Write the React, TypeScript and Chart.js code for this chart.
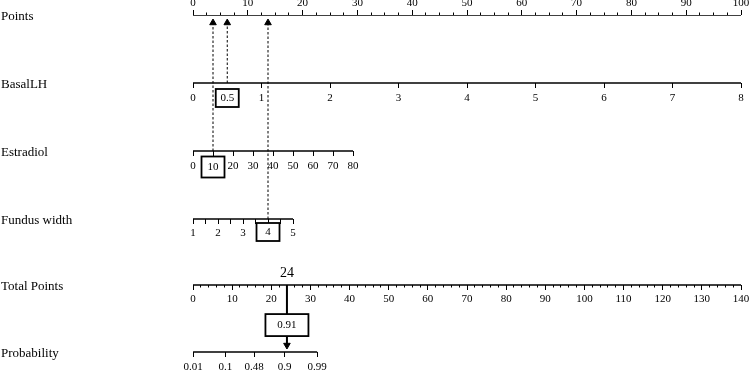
import React, { useEffect, useRef } from 'react';
import { Chart, registerables } from 'chart.js';

Chart.register(...registerables);

// ---- rows ----
const ROW_NAMES = ['Points', 'BasalLH', 'Estradiol', 'Fundus width', 'Total Points', 'Probability'];
const ROW_POS = [0, 1, 2, 3, 3.97, 4.955];

// ---- axes ----
const POINTS_TICKS = [0, 10, 20, 30, 40, 50, 60, 70, 80, 90, 100];
const POINTS_MINOR_STEP = 2.5;

const BASAL_TICKS = [0, 1, 2, 3, 4, 5, 6, 7, 8];
const BASAL_POINTS_AT_MAX = 100;

const ESTRADIOL_TICKS = [0, 10, 20, 30, 40, 50, 60, 70, 80];
const ESTRADIOL_POINTS_AT_MAX = 29.2;

const FUNDUS_TICKS = [1, 1.5, 2, 2.5, 3, 3.5, 4, 4.5, 5];
const FUNDUS_LABELS = ['1', '', '2', '', '3', '', '4', '', '5'];
const FUNDUS_POINTS_AT_MAX = 18.25;

const TOTAL_TICKS = [0, 10, 20, 30, 40, 50, 60, 70, 80, 90, 100, 110, 120, 130, 140];
const TOTAL_MINOR_STEP = 2;

const PROB_TICKS = [0.01, 0.1, 0.48, 0.9, 0.99];
const LOGIT_INTERCEPT = -4.6;
const LOGIT_SLOPE = 0.29;

// ---- selected case ----
const SEL_BASAL = 0.5;
const SEL_ESTRADIOL = 10;
const SEL_FUNDUS = 4;
const SEL_TOTAL = 24;
const SEL_PROB = 0.91;

const FONT = '"Liberation Serif", "Times New Roman", serif';
const TICK_FONT_SIZE = 11;
const logit = (p: number) => Math.log(p / (1 - p));
const range = (a: number, b: number, s: number) => {
  const out: number[] = [];
  for (let v = a; v <= b + 1e-9; v += s) out.push(+v.toFixed(4));
  return out;
};
const axisMax = (lo: number, hi: number, pts: number) => lo + (hi - lo) * 100 / pts;

function mkAxis(o: {
  row: number; min: number; max: number; ticks: number[];
  labels?: string[]; tickLength: number; grid: boolean;
}) {
  return {
    type: 'linear',
    position: { y: o.row },
    min: o.min,
    max: o.max,
    bounds: 'data',
    afterBuildTicks: (s: any) => { s.ticks = o.ticks.map((v) => ({ value: v })); },
    grid: {
      display: o.grid,
      drawOnChartArea: false,
      drawTicks: true,
      tickLength: o.tickLength,
      color: '#000',
      lineWidth: 1,
    },
    border: { display: false },
    ticks: {
      autoSkip: false,
      maxRotation: 0,
      minRotation: 0,
      padding: 0,
      color: '#000',
      font: { family: FONT, size: TICK_FONT_SIZE },
      callback: (_v: any, i: number) => (o.labels ? o.labels[i] : ''),
    },
  };
}

const LINE = { borderColor: '#000', borderWidth: 1.5, pointRadius: 0, fill: false, yAxisID: 'y' };

export default function App() {
  const ref = useRef<HTMLCanvasElement | null>(null);

  useEffect(() => {
    if (!ref.current) return;
    const rPts = ROW_POS[0], rBas = ROW_POS[1], rEst = ROW_POS[2], rFun = ROW_POS[3], rTot = ROW_POS[4], rPro = ROW_POS[5];
    const estMax = axisMax(0, 80, ESTRADIOL_POINTS_AT_MAX);
    const funMax = axisMax(1, 5, FUNDUS_POINTS_AT_MAX);
    const basMax = axisMax(0, 8, BASAL_POINTS_AT_MAX);
    const proMin = LOGIT_INTERCEPT;
    const proMax = LOGIT_INTERCEPT + LOGIT_SLOPE * 140;
    const ARROW_UP_ROW = 0.115;
    const ARROW_DOWN_ROW = 4.856;

    const dashed = (axis: string, v: number, row: number) => ({
      ...LINE,
      xAxisID: axis,
      borderWidth: 1,
      borderDash: [2.5, 2],
      data: [{ x: v, y: row }, { x: v, y: ARROW_UP_ROW }],
      pointRadius: [0, 3.8],
      pointStyle: 'triangle',
      pointRotation: 0,
      pointBackgroundColor: '#000',
      pointBorderColor: '#000',
      pointBorderWidth: 1,
    });

    const overlay = {
      id: 'overlay',
      afterDraw(chart: any) {
        const ctx = chart.ctx as CanvasRenderingContext2D;
        const ys = chart.scales.y;
        ctx.save();
        ctx.fillStyle = '#000';
        ctx.font = `13px ${FONT}`;
        ctx.textBaseline = 'middle';
        ctx.textAlign = 'left';
        ROW_NAMES.forEach((n, i) => ctx.fillText(n, 1, ys.getPixelForValue(ROW_POS[i]) + 2));

        const box = (cx: number, cy: number, w: number, h: number, text: string) => {
          ctx.fillStyle = '#fff';
          ctx.fillRect(cx - w / 2, cy - h / 2, w, h);
          ctx.lineWidth = 1.8;
          ctx.strokeStyle = '#000';
          ctx.strokeRect(cx - w / 2, cy - h / 2, w, h);
          ctx.fillStyle = '#000';
          ctx.font = `${TICK_FONT_SIZE}px ${FONT}`;
          ctx.textAlign = 'center';
          ctx.textBaseline = 'middle';
          ctx.fillText(text, cx, cy);
        };
        box(chart.scales.xBasLab.getPixelForValue(SEL_BASAL), ys.getPixelForValue(rBas) + 15, 23, 18, String(SEL_BASAL));
        box(chart.scales.xEstLab.getPixelForValue(SEL_ESTRADIOL), ys.getPixelForValue(rEst) + 16, 23, 21, String(SEL_ESTRADIOL));
        box(chart.scales.xFunLab.getPixelForValue(SEL_FUNDUS), ys.getPixelForValue(rFun) + 13, 23, 18, String(SEL_FUNDUS));
        box(chart.scales.xTotLab.getPixelForValue(SEL_TOTAL), ys.getPixelForValue(4.56), 43, 22, String(SEL_PROB));

        ctx.font = `14px ${FONT}`;
        ctx.textAlign = 'center';
        ctx.fillText(String(SEL_TOTAL), chart.scales.xTotLab.getPixelForValue(SEL_TOTAL), ys.getPixelForValue(rTot) - 12);
        ctx.restore();
      },
    };

    const chart = new Chart(ref.current, {
      type: 'line',
      data: {
        datasets: [
          { ...LINE, xAxisID: 'xPtsLab', data: [{ x: 0, y: rPts }, { x: 100, y: rPts }] },
          { ...LINE, xAxisID: 'xBasLab', data: [{ x: 0, y: rBas }, { x: 8, y: rBas }] },
          { ...LINE, xAxisID: 'xEstLab', data: [{ x: 0, y: rEst }, { x: 80, y: rEst }] },
          { ...LINE, xAxisID: 'xFunLab', data: [{ x: 1, y: rFun }, { x: 5, y: rFun }] },
          { ...LINE, xAxisID: 'xTotLab', data: [{ x: 0, y: rTot }, { x: 140, y: rTot }] },
          { ...LINE, xAxisID: 'xProLab', data: [{ x: logit(PROB_TICKS[0]), y: rPro }, { x: logit(PROB_TICKS[PROB_TICKS.length - 1]), y: rPro }] },
          dashed('xBasLab', SEL_BASAL, rBas),
          dashed('xEstLab', SEL_ESTRADIOL, rEst),
          dashed('xFunLab', SEL_FUNDUS, rFun),
          {
            ...LINE,
            xAxisID: 'xTotLab',
            borderWidth: 2,
            data: [{ x: SEL_TOTAL, y: rTot }, { x: SEL_TOTAL, y: ARROW_DOWN_ROW }],
            pointRadius: [0, 3.8],
            pointStyle: 'triangle',
            pointRotation: 180,
            pointBackgroundColor: '#000',
            pointBorderColor: '#000',
            pointBorderWidth: 1,
          },
        ] as any,
      },
      options: {
        animation: false,
        responsive: false,
        events: [],
        layout: { padding: { left: 193, right: 9, top: 15, bottom: 15 } },
        plugins: { legend: { display: false }, tooltip: { enabled: false } },
        scales: {
          y: { type: 'linear', min: 0, max: 5, reverse: true, display: false },
          // Points (labels above, ticks up)
          xPtsLab: mkAxis({ row: rPts, min: 0, max: 100, ticks: POINTS_TICKS, labels: POINTS_TICKS.map(String), tickLength: -18, grid: false }),
          xPtsMaj: mkAxis({ row: rPts, min: 0, max: 100, ticks: POINTS_TICKS, tickLength: -5, grid: true }),
          xPtsMin: mkAxis({ row: rPts, min: 0, max: 100, ticks: range(0, 100, POINTS_MINOR_STEP), tickLength: -2.5, grid: true }),
          // BasalLH
          xBasLab: mkAxis({ row: rBas, min: 0, max: basMax, ticks: BASAL_TICKS, labels: BASAL_TICKS.map(String), tickLength: 8.5, grid: false }),
          xBasMaj: mkAxis({ row: rBas, min: 0, max: basMax, ticks: BASAL_TICKS, tickLength: 5, grid: true }),
          // Estradiol
          xEstLab: mkAxis({ row: rEst, min: 0, max: estMax, ticks: ESTRADIOL_TICKS, labels: ESTRADIOL_TICKS.map(String), tickLength: 8.5, grid: false }),
          xEstMaj: mkAxis({ row: rEst, min: 0, max: estMax, ticks: ESTRADIOL_TICKS, tickLength: 5, grid: true }),
          // Fundus width
          xFunLab: mkAxis({ row: rFun, min: 1, max: funMax, ticks: FUNDUS_TICKS, labels: FUNDUS_LABELS, tickLength: 8, grid: false }),
          xFunMaj: mkAxis({ row: rFun, min: 1, max: funMax, ticks: FUNDUS_TICKS, tickLength: 5, grid: true }),
          // Total Points
          xTotLab: mkAxis({ row: rTot, min: 0, max: 140, ticks: TOTAL_TICKS, labels: TOTAL_TICKS.map(String), tickLength: 8, grid: false }),
          xTotMaj: mkAxis({ row: rTot, min: 0, max: 140, ticks: TOTAL_TICKS, tickLength: 5, grid: true }),
          xTotMin: mkAxis({ row: rTot, min: 0, max: 140, ticks: range(0, 140, TOTAL_MINOR_STEP), tickLength: 2.5, grid: true }),
          // Probability
          xProLab: mkAxis({ row: rPro, min: proMin, max: proMax, ticks: PROB_TICKS.map(logit), labels: PROB_TICKS.map(String), tickLength: 8.5, grid: false }),
          xProMaj: mkAxis({ row: rPro, min: proMin, max: proMax, ticks: PROB_TICKS.map(logit), tickLength: 5, grid: true }),
        } as any,
      },
      plugins: [overlay],
    });
    return () => chart.destroy();
  }, []);

  return (
    <div style={{ position: 'fixed', left: 0, top: 0, width: 750, height: 370, background: '#fff' }}>
      <canvas ref={ref} width={750} height={370} style={{ display: 'block', width: 750, height: 370 }} />
    </div>
  );
}
